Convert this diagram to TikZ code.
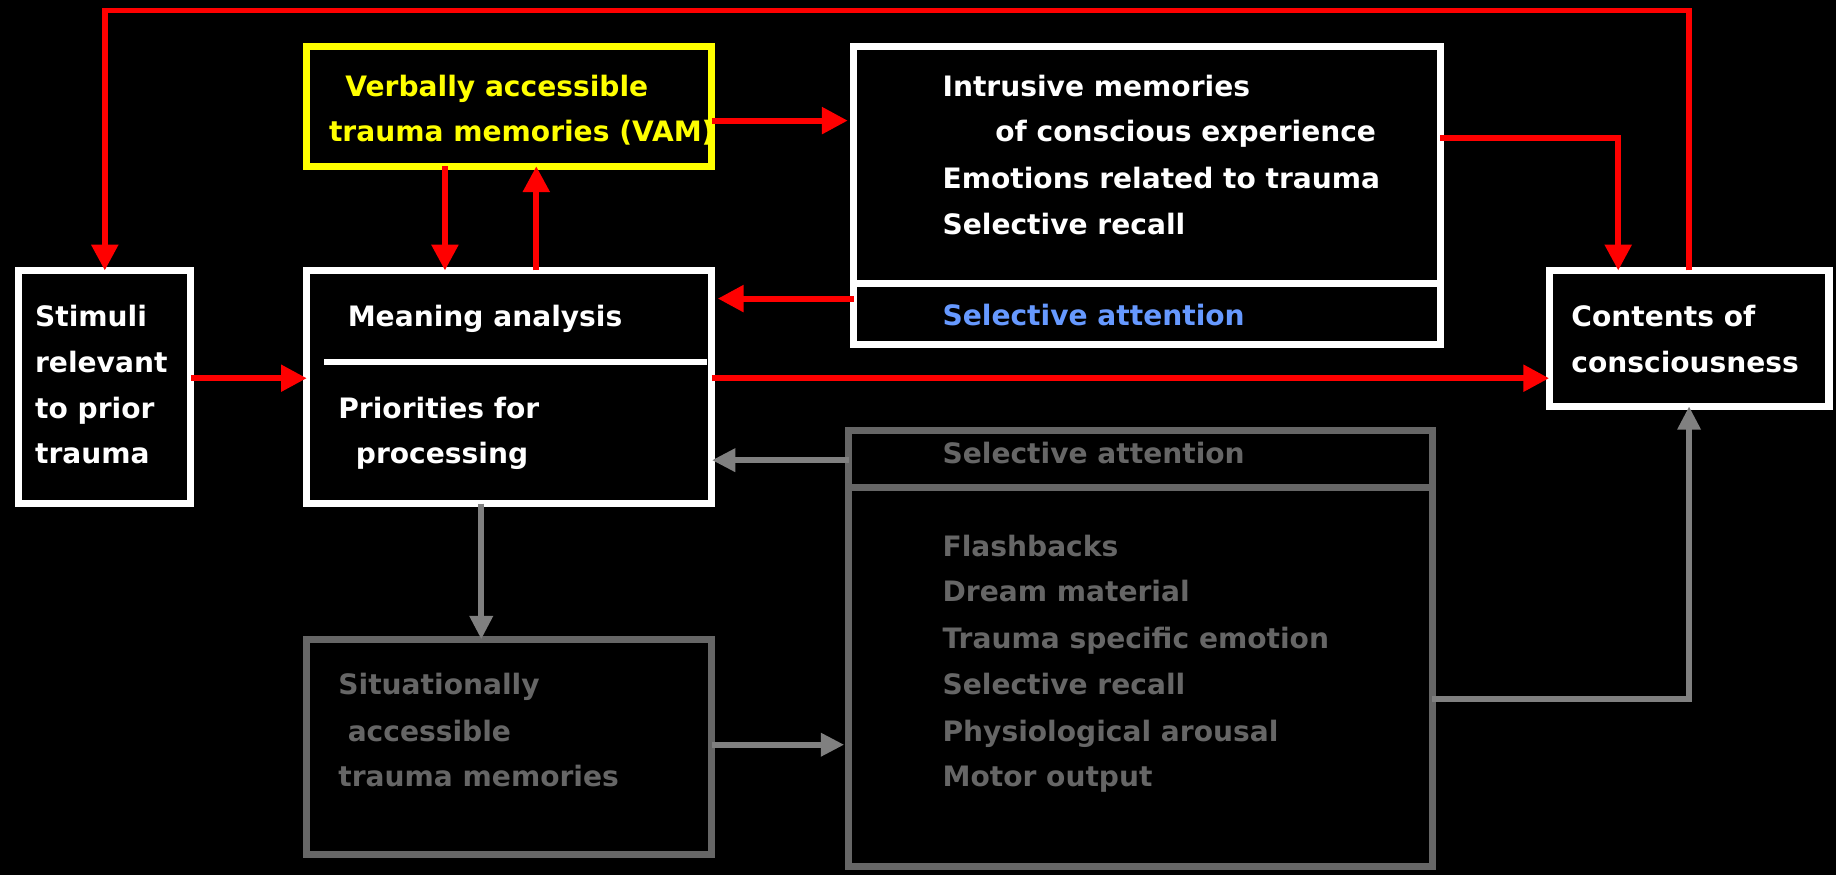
\documentclass[tikz,border=0pt]{standalone}
\usepackage{fontspec}
\setmainfont{DejaVu Sans}
\usetikzlibrary{arrows.meta}
\definecolor{vamyellow}{RGB}{255,255,0}
\definecolor{flowred}{RGB}{255,0,0}
\definecolor{attnblue}{RGB}{102,153,255}
\definecolor{boxgray}{RGB}{102,102,102}
\definecolor{arrowgray}{RGB}{128,128,128}
\tikzset{
  box/.style={draw, rectangle, line width=6pt, fill=black, inner sep=0pt, outer sep=0pt},
  whitebox/.style={box, draw=white},
  label/.style={anchor=base west, inner sep=0pt, outer sep=0pt, font=\fontsize{24}{39}\selectfont\bfseries},
  redflow/.style={draw=flowred, line width=5pt, -{Triangle[length=22pt,width=22pt]}},
  grayflow/.style={draw=arrowgray, line width=5pt, -{Triangle[length=20pt,width=19pt]}},
}
\begin{document}
\begin{tikzpicture}[x=1pt,y=-1pt]
  \fill[black] (0,0) rectangle (1568,747);
  \useasboundingbox (0,0) rectangle (1568,747);

  % boxes
  \node[whitebox, minimum width=147pt, minimum height=199pt] (stim) at (89.5,330.5) {};
  \node[whitebox, minimum width=346pt, minimum height=199pt] (mean) at (435,330.5) {};
  \node[box, draw=vamyellow, minimum width=346pt, minimum height=102pt] (vam) at (435,91) {};
  \node[whitebox, minimum width=501pt, minimum height=254pt] (intr) at (979.5,167) {};
  \node[whitebox, minimum width=239pt, minimum height=116pt] (cont) at (1442.5,289) {};
  \node[box, draw=boxgray, minimum width=346pt, minimum height=184pt] (sam) at (435,638) {};
  \node[box, draw=boxgray, minimum width=498pt, minimum height=372pt] (rg) at (974,554) {};

  % dividers inside boxes
  \draw[white, line width=5pt] (277,309) -- (604,309);
  \draw[white, line width=6pt] (intr.west |- 0,242) -- (intr.east |- 0,242);
  \draw[boxgray, line width=6pt] (rg.west |- 0,416) -- (rg.east |- 0,416);

  % texts
  \begin{scope}[white]
    \node[label] (t1) at (30,279) {Stimuli};
    \node[label] (t2) at (30,318) {relevant};
    \node[label] (t3) at (30,357) {to prior};
    \node[label] (t4) at (30,396) {trauma};
    \node[label] (m1) at (297,279) {Meaning analysis};
    \node[label] (m2) at (289,357) {Priorities for};
    \node[label] (m3) at (304,396) {processing};
    \node[label] (i1) at (805,82) {Intrusive memories};
    \node[label] (i2) at (850,121) {of conscious experience};
    \node[label] (i3) at (805,161) {Emotions related to trauma};
    \node[label] (i4) at (805,200) {Selective recall};
    \node[label] (c1) at (1342,279) {Contents of};
    \node[label] (c2) at (1342,318) {consciousness};
  \end{scope}
  \node[label, text=attnblue] (i5) at (805,278) {Selective attention};
  \node[label, text=vamyellow] (v1) at (295,82) {Verbally accessible};
  \node[label, text=vamyellow] (v2) at (281,121) {trauma memories (VAM)};
  \begin{scope}[text=boxgray]
    \node[label] (s1) at (289,593) {Situationally};
    \node[label] (s2) at (297,633) {accessible};
    \node[label] (s3) at (289,672) {trauma memories};
    \node[label] (r0) at (805,396) {Selective attention};
    \node[label] (r1) at (805,475) {Flashbacks};
    \node[label] (r2) at (805,514) {Dream material};
    \node[label] (r3) at (805,554) {Trauma specific emotion};
    \node[label] (r4) at (805,593) {Selective recall};
    \node[label] (r5) at (805,633) {Physiological arousal};
    \node[label] (r6) at (805,672) {Motor output};
  \end{scope}

  % red connectors
  \draw[redflow] (cont.north) -- (cont.north |- 0,9) -- (stim.north |- 0,9) -- (stim.north);
  \draw[redflow] (stim.east |- 0,323) -- (mean.west |- 0,323);
  \draw[redflow] (vam.south -| 380,0) -- (mean.north -| 380,0);
  \draw[redflow] (mean.north -| 458,0) -- (vam.south -| 458,0);
  \draw[redflow, shorten >=5pt] (vam.east |- 0,103) -- (intr.west |- 0,103);
  \draw[redflow, shorten >=5pt] (intr.west |- 0,255) -- (mean.east |- 0,255);
  \draw[redflow] (intr.east |- 0,118) -| (cont.north -| 1382,0);
  \draw[redflow] (mean.east |- 0,323) -- (cont.west |- 0,323);

  % gray connectors
  \draw[grayflow] (rg.west |- 0,393) -- (mean.east |- 0,393);
  \draw[grayflow] (mean.south -| 411,0) -- (sam.north -| 411,0);
  \draw[grayflow, shorten >=4pt] (sam.east |- 0,636) -- (rg.west |- 0,636);
  \draw[grayflow] (rg.east |- 0,597) -| (cont.south);
\end{tikzpicture}
\end{document}
